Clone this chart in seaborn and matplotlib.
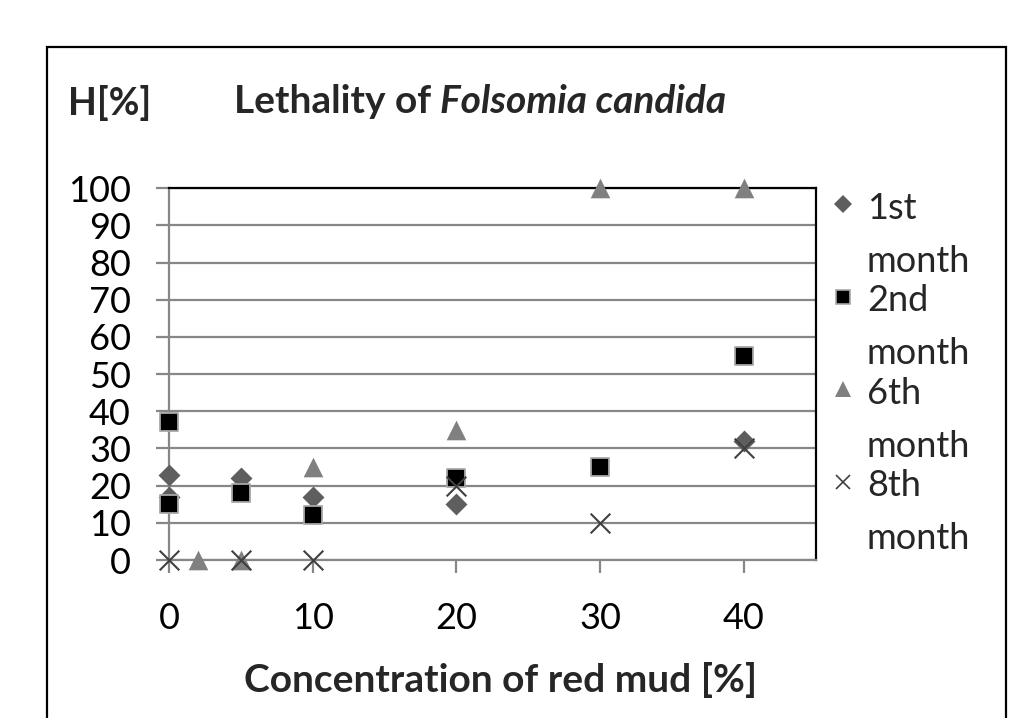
import matplotlib
matplotlib.use("Agg")
import matplotlib.pyplot as plt
import seaborn as sns
from matplotlib.lines import Line2D
from matplotlib.patches import Rectangle

sns.set_theme(style="white")
plt.rcParams['font.family'] = ['Lato', 'DejaVu Sans']

# ---- data ----
conc_1st = [0, 0, 5, 10, 20, 40]
h_1st = [23, 17, 22, 17, 15, 32]
conc_2nd = [0, 0, 5, 10, 20, 30, 40]
h_2nd = [37, 15, 18, 12, 22, 25, 55]
conc_6th = [2, 5, 10, 20, 30, 40]
h_6th = [0, 0, 25, 35, 100, 100]
conc_8th = [0, 5, 10, 20, 30, 40]
h_8th = [0, 0, 0, 20, 10, 30]

series_labels = ["1st\nmonth", "2nd\nmonth", "6th\nmonth", "8th\nmonth"]
x_ticks = [0, 10, 20, 30, 40]
y_ticks = [0, 10, 20, 30, 40, 50, 60, 70, 80, 90, 100]

grey_line = '#878787'

fig = plt.figure(figsize=(10.25, 7.18), dpi=100)
ax = fig.add_axes([169 / 1025, 1 - 560 / 718, 646.7 / 1025, 371.7 / 718])

# series (same drawing order as the original)
sns.scatterplot(x=conc_1st, y=h_1st, marker='D', s=125, color='#5e5e5e',
                linewidth=0, ax=ax, clip_on=False, zorder=3)
sns.scatterplot(x=conc_2nd, y=h_2nd, marker='s', s=150, color='black',
                edgecolor='#a8a8a8', linewidth=1.3, ax=ax, clip_on=False, zorder=3)
sns.scatterplot(x=conc_6th, y=h_6th, marker='^', s=200, color='#808080',
                linewidth=0, ax=ax, clip_on=False, zorder=3)
sns.scatterplot(x=conc_8th, y=h_8th, marker='x', s=200, color='#404040',
                linewidth=1.5, ax=ax, clip_on=False, zorder=3)

ax.set_xlim(0, 45)
ax.set_ylim(0, 100)
ax.set_xticks(x_ticks)
ax.set_yticks(y_ticks)
ax.set_axisbelow(True)
ax.yaxis.grid(True, color=grey_line, linewidth=1.6)
ax.xaxis.grid(False)

for side in ['top', 'right']:
    ax.spines[side].set_color('black')
    ax.spines[side].set_linewidth(1.6)
for side in ['left', 'bottom']:
    ax.spines[side].set_color(grey_line)
    ax.spines[side].set_linewidth(1.6)

ax.tick_params(axis='both', direction='out', length=9.4, width=1.6,
               color=grey_line, labelcolor='black', labelsize=26,
               bottom=True, left=True)
ax.tick_params(axis='y', pad=18)
ax.tick_params(axis='x', pad=21)

ax.set_xlabel('Concentration of red mud [%]', fontsize=28, fontweight='bold')
ax.xaxis.set_label_coords(0.512, -0.275)
ax.set_ylabel('')

# y axis title, horizontal at top left
fig.text(68 / 1025, 1 - 115 / 718, 'H[%]', ha='left', va='baseline',
         fontsize=27, fontweight='bold')

# title: bold with italic species name, centred at x = 480 px
renderer = fig.canvas.get_renderer()
t1 = fig.text(0, 1 - 113 / 718, 'Lethality of ', ha='left', va='baseline',
              fontsize=28, fontweight='bold')
t2 = fig.text(0, 1 - 113 / 718, 'Folsomia candida', ha='left', va='baseline',
              fontsize=28, fontweight='bold', fontstyle='italic')
w1 = t1.get_window_extent(renderer).width
w2 = t2.get_window_extent(renderer).width
x0 = 480 - (w1 + w2) / 2
t1.set_x(x0 / 1025)
t2.set_x((x0 + w1) / 1025)

# legend
handles = [
    Line2D([], [], ls='none', marker='D', markersize=9, color='#5e5e5e', markeredgewidth=0),
    Line2D([], [], ls='none', marker='s', markersize=10, markerfacecolor='black',
           markeredgecolor='#a8a8a8', markeredgewidth=1.2),
    Line2D([], [], ls='none', marker='^', markersize=11.5, color='#808080', markeredgewidth=0),
    Line2D([], [], ls='none', marker='x', markersize=10, color='#404040', markeredgewidth=1.2),
]
leg = ax.legend(handles, series_labels, loc='upper left',
                bbox_to_anchor=(828.6 / 1025, 1 - 191.6 / 718),
                bbox_transform=fig.transFigure, frameon=False, fontsize=26,
                borderpad=0, borderaxespad=0, handlelength=0.8,
                handletextpad=0.26, labelspacing=0.18)
for t in leg.get_texts():
    t.set_linespacing(1.74)
for col in leg._legend_handle_box.get_children():
    for row in col.get_children():
        row.align = 'top'

# outer chart frame (its bottom edge lies outside the picture)
frame = Rectangle((46.5 / 1025, -0.05), (1005.5 - 46.5) / 1025, 1 - 47 / 718 + 0.05,
                  transform=fig.transFigure, fill=False, edgecolor='black',
                  linewidth=1.6, clip_on=False)
fig.add_artist(frame)

fig.savefig('out.png', dpi=100)
